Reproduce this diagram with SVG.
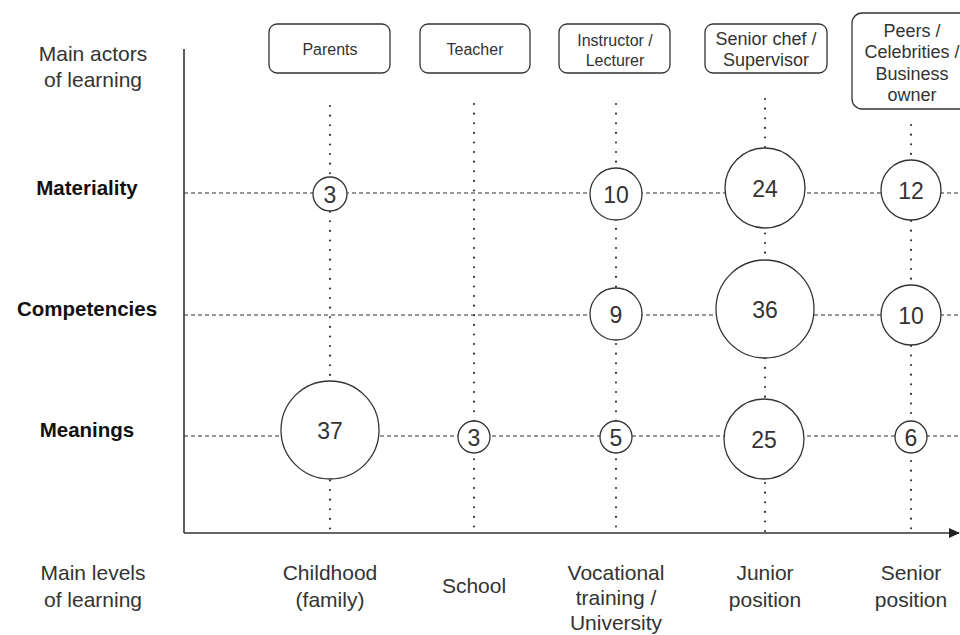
<svg xmlns="http://www.w3.org/2000/svg" width="960" height="635" viewBox="0 0 960 635">
<style>
  text { font-family: "Liberation Sans", Arial, sans-serif; fill: #333; text-anchor: middle; }
  .lbl { font-size: 21px; }
  .bold { font-size: 20.5px; font-weight: bold; fill: #111; }
  .box { fill: #fff; stroke: #333; stroke-width: 1.3; }
  .bt { font-size: 16px; }
  .bt2 { font-size: 18px; }
  .num { font-size: 23px; dominant-baseline: central; }
  .bub { fill: #fff; stroke: #333; stroke-width: 1.3; }
  .dash { stroke: #333; stroke-width: 1.2; stroke-dasharray: 4 3; fill: none; }
  .dot { stroke: #222; stroke-width: 2; stroke-dasharray: 0.1 9.5; stroke-linecap: round; fill: none; }
  .axis { stroke: #333; stroke-width: 1.6; fill: none; }
</style>
<defs>
  <marker id="arr" markerWidth="11" markerHeight="10" refX="10" refY="5" orient="auto" markerUnits="userSpaceOnUse">
    <path d="M0,0 L11,5 L0,10 Z" fill="#222"/>
  </marker>
</defs>

<g id="connectors">
  <line class="dash" x1="184" y1="193" x2="960" y2="193"/>
  <line class="dash" x1="184" y1="315" x2="960" y2="315"/>
  <line class="dash" x1="184" y1="436" x2="960" y2="436"/>
  <line class="dot" x1="330" y1="106" x2="330" y2="533"/>
  <line class="dot" x1="474" y1="104" x2="474" y2="533"/>
  <line class="dot" x1="616" y1="104" x2="616" y2="533"/>
  <line class="dot" x1="765" y1="99" x2="765" y2="533"/>
  <line class="dot" x1="911" y1="125" x2="911" y2="533"/>
  <line class="axis" x1="184" y1="49" x2="184" y2="533"/>
  <line class="axis" x1="184" y1="533" x2="959" y2="533" marker-end="url(#arr)"/>
</g>

<g id="axis-labels">
  <text class="lbl" x="93" y="61">Main actors</text>
  <text class="lbl" x="93" y="87">of learning</text>
  <text class="lbl" x="93" y="580">Main levels</text>
  <text class="lbl" x="93" y="607">of learning</text>
</g>

<g id="row-materiality"><text class="bold" x="87" y="195">Materiality</text></g>
<g id="row-competencies"><text class="bold" x="87" y="316">Competencies</text></g>
<g id="row-meanings"><text class="bold" x="87" y="437">Meanings</text></g>

<g id="actor-parents">
  <rect class="box" x="269" y="24" width="121" height="49" rx="8"/>
  <text class="bt" x="330" y="55">Parents</text>
</g>
<g id="actor-teacher">
  <rect class="box" x="420" y="24" width="110" height="49" rx="8"/>
  <text class="bt" x="475" y="55">Teacher</text>
</g>
<g id="actor-instructor">
  <rect class="box" x="559" y="24" width="111" height="49" rx="8"/>
  <text class="bt" x="615" y="46">Instructor /</text>
  <text class="bt" x="615" y="66">Lecturer</text>
</g>
<g id="actor-senior-chef">
  <rect class="box" x="705" y="24" width="122" height="49" rx="8"/>
  <text class="bt2" x="766" y="45">Senior chef /</text>
  <text class="bt2" x="766" y="66">Supervisor</text>
</g>
<g id="actor-peers">
  <rect class="box" x="852" y="13" width="120" height="96" rx="10"/>
  <text class="bt2" x="912" y="37">Peers /</text>
  <text class="bt2" x="912" y="58">Celebrities /</text>
  <text class="bt2" x="912" y="80">Business</text>
  <text class="bt2" x="912" y="101">owner</text>
</g>

<g id="level-childhood">
  <text class="lbl" x="330" y="580">Childhood</text>
  <text class="lbl" x="330" y="607">(family)</text>
</g>
<g id="level-school">
  <text class="lbl" x="474" y="593">School</text>
</g>
<g id="level-vocational">
  <text class="lbl" x="616" y="580">Vocational</text>
  <text class="lbl" x="616" y="605">training /</text>
  <text class="lbl" x="616" y="630">University</text>
</g>
<g id="level-junior">
  <text class="lbl" x="765" y="580">Junior</text>
  <text class="lbl" x="765" y="607">position</text>
</g>
<g id="level-senior">
  <text class="lbl" x="911" y="580">Senior</text>
  <text class="lbl" x="911" y="607">position</text>
</g>

<g id="b-mat-childhood"><circle class="bub" cx="330" cy="194" r="17"/><text class="num" x="330" y="195">3</text></g>
<g id="b-mat-vocational"><circle class="bub" cx="616" cy="194" r="26"/><text class="num" x="616" y="195">10</text></g>
<g id="b-mat-junior"><circle class="bub" cx="765" cy="188" r="40"/><text class="num" x="765" y="189">24</text></g>
<g id="b-mat-senior"><circle class="bub" cx="911" cy="190" r="30"/><text class="num" x="911" y="191">12</text></g>

<g id="b-comp-vocational"><circle class="bub" cx="616" cy="314" r="26"/><text class="num" x="616" y="315">9</text></g>
<g id="b-comp-junior"><circle class="bub" cx="765" cy="309" r="49"/><text class="num" x="765" y="310">36</text></g>
<g id="b-comp-senior"><circle class="bub" cx="911" cy="315" r="30"/><text class="num" x="911" y="316">10</text></g>

<g id="b-mean-childhood"><circle class="bub" cx="330" cy="430" r="49"/><text class="num" x="330" y="431">37</text></g>
<g id="b-mean-school"><circle class="bub" cx="474" cy="437" r="16"/><text class="num" x="474" y="438">3</text></g>
<g id="b-mean-vocational"><circle class="bub" cx="616" cy="437" r="16"/><text class="num" x="616" y="438">5</text></g>
<g id="b-mean-junior"><circle class="bub" cx="764" cy="439" r="40"/><text class="num" x="764" y="440">25</text></g>
<g id="b-mean-senior"><circle class="bub" cx="911" cy="437" r="16"/><text class="num" x="911" y="438">6</text></g>
</svg>
